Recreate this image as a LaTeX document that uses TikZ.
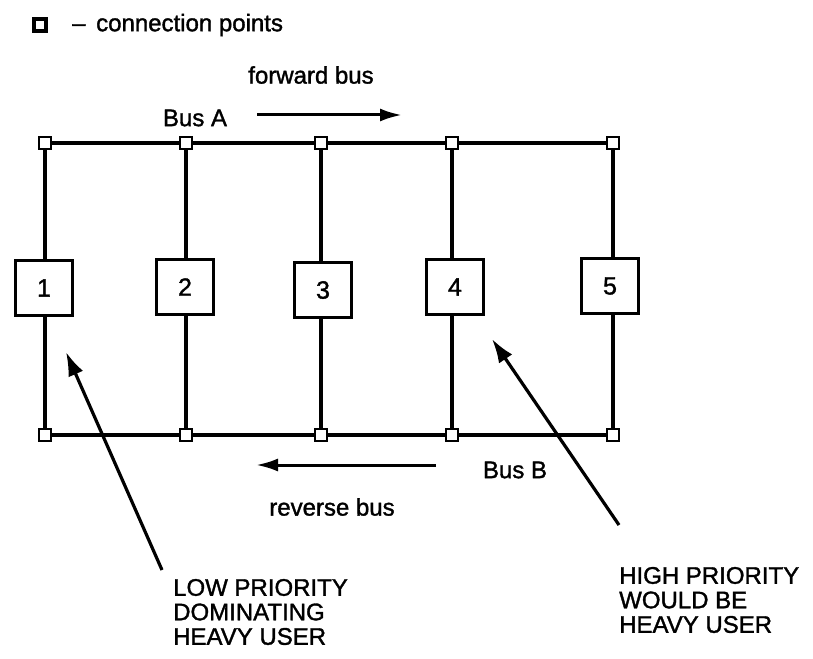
\documentclass[tikz,border=0pt]{standalone}
\usepackage{fontspec}
\setmainfont{Liberation Sans}
\newfontfamily\scanfont{Liberation Sans}[BoldFont={Liberation Sans},BoldFeatures={FakeBold=1.4}]
\usetikzlibrary{arrows.meta}
\begin{document}
\begin{tikzpicture}[x=1pt,y=-1pt,
  lbl/.style={inner sep=0pt,font=\scanfont\bfseries\fontsize{24}{24.5}\selectfont},
  stbox/.style={draw,line width=3.2pt,fill=white,minimum width=57pt,minimum height=55pt,inner sep=0pt,font=\scanfont\bfseries\fontsize{25}{25}\selectfont},
  cpt/.style={draw,line width=2.8pt,fill=white,minimum size=12pt,inner sep=0pt},
  bus/.style={line width=4pt},
  drop/.style={line width=3.2pt},
  flow/.style={line width=3pt,-{Latex[length=22pt,width=13pt]}},
  point/.style={line width=3.2pt,-{Latex[length=24pt,width=16pt]}}]
\useasboundingbox (0,0) rectangle (813,658);
% legend
\node[cpt,line width=3.2pt] (leg) at (40,25) {};
\node[lbl,anchor=west] (legtxt) at (72,25) {–\ \,connection points};
% connection points
\foreach \i/\x in {1/45,2/186,3/321,4/452,5/613}{
  \node[cpt] (t\i) at (\x,143) {};
  \node[cpt] (b\i) at (\x,435) {};
}
% stations
\node[stbox] (s1) at (44,288) {1};
\node[stbox] (s2) at (185,287) {2};
\node[stbox] (s3) at (323,290) {3};
\node[stbox] (s4) at (455,287) {4};
\node[stbox] (s5) at (610,286) {5};
% buses
\draw[bus] (t1) -- (t2) -- (t3) -- (t4) -- (t5);
\draw[bus] (b1) -- (b2) -- (b3) -- (b4) -- (b5);
\foreach \i in {1,...,5}{
  \draw[drop] (t\i) -- (t\i |- s\i.north);
  \draw[drop] (t\i |- s\i.south) -- (b\i);
}
% redraw points on top
\foreach \i/\x in {1/45,2/186,3/321,4/452,5/613}{
  \node[cpt] at (\x,143) {};
  \node[cpt] at (\x,435) {};
}
% labels
\node[lbl] (fwd) at (311,75) {forward bus};
\node[lbl] (busA) at (195,118) {Bus A};
\coordinate (fa0) at (257,115);
\coordinate (fa1) at (402,115);
\draw[flow] (fa0) -- (fa1);
\node[lbl] (busB) at (515,470) {Bus B};
\node[lbl] (rev) at (332,507) {reverse bus};
\coordinate (ra0) at (436,465);
\coordinate (ra1) at (256,465);
\draw[flow] (ra0) -- (ra1);
% annotations
\node[lbl,anchor=west,align=left] (low) at (173,612) {LOW PRIORITY\\DOMINATING\\HEAVY USER};
\node[lbl,anchor=west,align=left] (high) at (619,600) {HIGH PRIORITY\\WOULD BE\\HEAVY USER};
\coordinate (lt) at (162,570);
\coordinate (lh) at (66,352);
\coordinate (ht) at (619,525);
\coordinate (hh) at (492,339);
\draw[point] (lt) -- (lh);
\draw[point] (ht) -- (hh);
\end{tikzpicture}
\end{document}
